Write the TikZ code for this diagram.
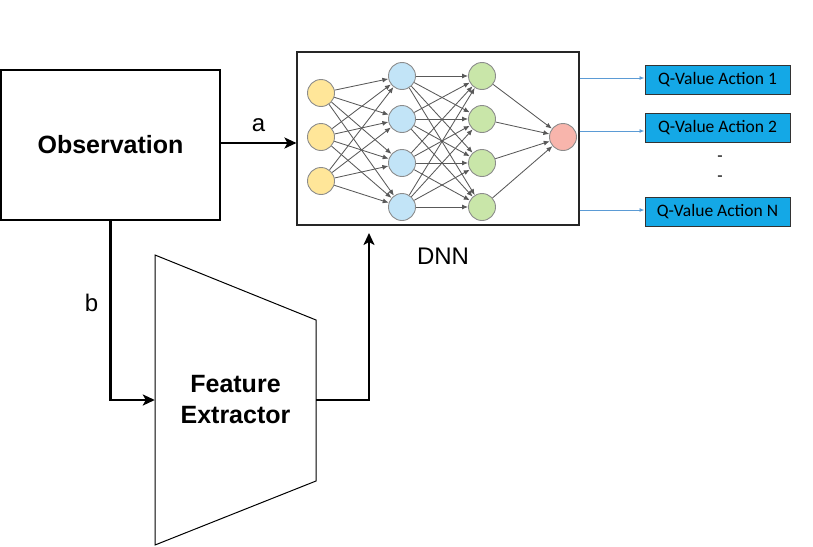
\documentclass[tikz,border=0pt]{standalone}
\usepackage{fontspec}
\setmainfont{Liberation Sans}
\newfontfamily\qfont{Carlito}
\usetikzlibrary{arrows.meta,calc}
\definecolor{nyel}{HTML}{FFE699}
\definecolor{nblu}{HTML}{C2E4F7}
\definecolor{ngrn}{HTML}{C9E6A9}
\definecolor{nred}{HTML}{F8B5AC}
\definecolor{qfill}{HTML}{14A8E6}
\definecolor{qline}{HTML}{5B9BD5}
\tikzset{
  neuron/.style={circle,draw=black!45,line width=0.9pt,minimum size=27pt,inner sep=0pt},
  nnedge/.style={draw=black!65,line width=0.85pt,-{Latex[length=6pt,width=5pt]}},
  bigarrow/.style={line width=2.6pt,-{Stealth[length=12pt,width=11pt,inset=3pt]}},
  qbox/.style={draw=black!80,line width=1pt,fill=qfill,minimum width=145pt,minimum height=29pt,inner sep=0pt,font=\qfont\fontsize{17.5}{20}\selectfont},
  qarrow/.style={draw=qline,line width=0.9pt,-{Latex[length=5pt,width=4pt]}},
  lbl/.style={font=\fontsize{24}{28}\selectfont,inner sep=0pt}
}
\begin{document}
\begin{tikzpicture}[x=1pt,y=-1pt]
\useasboundingbox (0,0) rectangle (813,546);
% Observation
\node[draw,line width=1.3pt,minimum width=219pt,minimum height=150pt,inner sep=0pt,font=\fontsize{25}{30}\selectfont\bfseries] (obs) at (110.5,145) {Observation};
% DNN box
\node[draw=black!85,line width=1.1pt,minimum width=282pt,minimum height=173pt,inner sep=0pt] (dnn) at (438,138.5) {};
\node[lbl] (dnnlbl) at (443,256) {DNN};
% neurons
\foreach \i/\y in {1/93,2/137,3/181} \node[neuron,fill=nyel] (y\i) at (321,\y) {};
\foreach \i/\y in {1/76,2/119,3/163,4/207} \node[neuron,fill=nblu] (b\i) at (402,\y) {};
\foreach \i/\y in {1/76,2/119,3/163,4/207} \node[neuron,fill=ngrn] (g\i) at (482,\y) {};
\node[neuron,fill=nred] (r1) at (563,137) {};
\foreach \i in {1,2,3} \foreach \j in {1,2,3,4} \draw[nnedge] (y\i) -- (b\j);
\foreach \i in {1,2,3,4} \foreach \j in {1,2,3,4} \draw[nnedge] (b\i) -- (g\j);
\foreach \i in {1,2,3,4} \draw[nnedge] (g\i) -- (r1);
% Feature extractor
\node[minimum width=161pt,minimum height=130pt,inner sep=0pt,align=center,font=\fontsize{25}{31}\selectfont\bfseries] (fe) at (235.5,400) {Feature\\Extractor};
\draw[line width=1pt,line join=miter] (155,255) -- (316,320) -- (316,481) -- (155,545) -- cycle;
% connectors
\draw[bigarrow] (obs.east |- 0,143) -- (dnn.west |- 0,143) node[lbl,midway,above=10pt] (la) {a};
\draw[bigarrow] (obs.south) |- (fe.west) node[lbl,pos=0.228,left=11pt] (lb) {b};
\coordinate (din) at (369,233);
\draw[bigarrow] (fe.east) -| (din);
% Q-value boxes
\node[qbox] (q1) at (717.5,79.5) {Q-Value Action 1};
\node[qbox] (q2) at (717.5,127.5) {Q-Value Action 2};
\node[qbox] (qn) at (717.5,211.5) {Q-Value Action N};
\node[font=\qfont\fontsize{17.5}{20}\selectfont,inner sep=0pt] (d1) at (720,159) {-};
\node[font=\qfont\fontsize{17.5}{20}\selectfont,inner sep=0pt] (d2) at (720,179) {-};
\draw[qarrow] (dnn.east |- 0,78) -- (q1.west |- 0,78);
\draw[qarrow] (dnn.east |- 0,131) -- (q2.west |- 0,131);
\draw[qarrow] (dnn.east |- 0,210) -- (qn.west |- 0,210);
\end{tikzpicture}
\end{document}
